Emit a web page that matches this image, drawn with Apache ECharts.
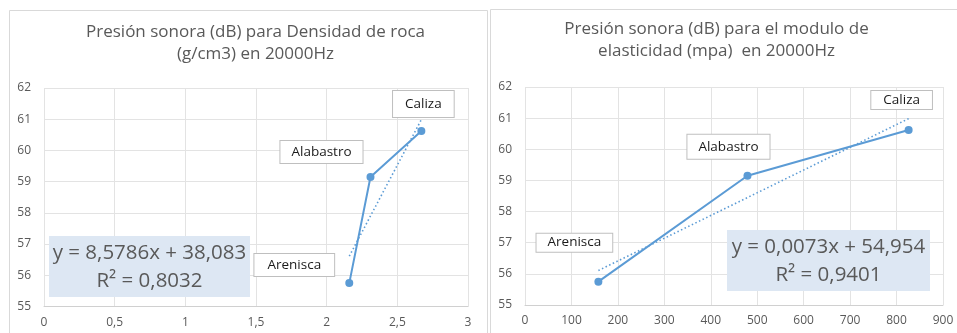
<!DOCTYPE html>
<html>
<head>
<meta charset="utf-8">
<script src="https://cdn.jsdelivr.net/npm/echarts@6/dist/echarts.min.js"></script>
<style>
  html, body { margin: 0; padding: 0; background: #fff; }
  #chart { width: 957px; height: 333px; }
</style>
</head>
<body>
<div id="chart"></div>
<script>
// Rock samples and measured sound pressure at 20000 Hz
const rocks = ['Arenisca', 'Alabastro', 'Caliza'];
const density = [2.16, 2.31, 2.67];          // g/cm3
const elasticity = [158, 479, 826];          // mpa
const pressure = [55.75, 59.15, 60.62];      // dB

// Linear trend coefficients (slope, intercept, R²) as reported
const densityFit = [8.5786, 38.083, 0.8032];
const elasticityFit = [0.0073, 54.954, 0.9401];

// Axis tick setup
const yTicks = [55, 62, 1];
const densityTicks = [0, 3, 0.5];
const elasticityTicks = [0, 900, 100];

const FONT = '"Open Sans", "Noto Sans", sans-serif';
const GRAY = '#595959';
const BLUE = '#5b9bd5';

const fmt = (v, d) => v.toFixed(d).replace('.', ',');

function trend(xs, fit) {
  const lo = Math.min(...xs), hi = Math.max(...xs);
  return [[lo, fit[0] * lo + fit[1]], [hi, fit[0] * hi + fit[1]]];
}

// label placement relative to each point: [dx, dy, padding]
const densityLabelPos = [[-55, -18, [4, 13]], [-49, -25, [4, 11]], [2, -27, [6, 12]]];
const elasticityLabelPos = [[-24, -39, [2, 11]], [-19, -29, [5, 11]], [-7, -30, [2, 12]]];

function points(xs, labelPos) {
  return xs.map((x, i) => ({
    value: [x, pressure[i]],
    name: rocks[i],
    label: {
      show: true,
      position: 'inside',
      offset: [labelPos[i][0], labelPos[i][1]],
      formatter: '{b}',
      color: '#1a1a1a',
      fontFamily: FONT,
      fontSize: 13.5,
      backgroundColor: '#fff',
      borderColor: '#bfbfbf',
      borderWidth: 1,
      padding: labelPos[i][2]
    }
  }));
}

function xAxisFor(ticks, idx, decimals) {
  return {
    type: 'value', gridIndex: idx,
    min: ticks[0], max: ticks[1], interval: ticks[2],
    axisLine: { show: true, lineStyle: { color: '#d0d0d0' } },
    axisTick: { show: false },
    splitLine: { show: true, lineStyle: { color: '#e3e3e3' } },
    axisLabel: {
      color: GRAY, fontFamily: FONT, fontSize: 12, margin: 10,
      formatter: v => decimals ? (Number.isInteger(v) ? String(v) : fmt(v, 1)) : String(v)
    }
  };
}

function yAxisFor(idx) {
  return {
    type: 'value', gridIndex: idx,
    min: yTicks[0], max: yTicks[1], interval: yTicks[2],
    axisLine: { show: false },
    axisTick: { show: false },
    splitLine: { show: true, lineStyle: { color: '#e3e3e3' } },
    axisLabel: { color: GRAY, fontFamily: FONT, fontSize: 12, margin: 13 }
  };
}

function dataSeries(idx, xs, labelPos) {
  return {
    type: 'line', xAxisIndex: idx, yAxisIndex: idx,
    data: points(xs, labelPos),
    symbol: 'circle', symbolSize: 8,
    lineStyle: { color: BLUE, width: 2 },
    itemStyle: { color: BLUE },
    z: 3, animation: false
  };
}

function trendSeries(idx, xs, fit) {
  return {
    type: 'line', xAxisIndex: idx, yAxisIndex: idx,
    data: trend(xs, fit),
    symbol: 'none',
    lineStyle: { color: BLUE, width: 1.6, type: [1.5, 2.5] },
    z: 2, animation: false, silent: true
  };
}

function equationBox(x, y, w, h, fit, decSlope, decInt) {
  const sign = fit[1] >= 0 ? '+' : '-';
  return {
    type: 'group', x, y, z: 100,
    children: [
      { type: 'rect', z: 100, shape: { x: 0, y: 0, width: w, height: h }, style: { fill: '#dde7f3' } },
      {
        type: 'text', z: 101, x: w / 2, y: h / 2 + 1,
        style: {
          text: 'y = ' + fmt(fit[0], decSlope) + 'x ' + sign + ' ' + fmt(Math.abs(fit[1]), decInt) +
                '\nR² = ' + fmt(fit[2], 4),
          fill: GRAY, font: '20.5px ' + FONT, lineHeight: 28,
          textAlign: 'center', textVerticalAlign: 'middle'
        }
      }
    ]
  };
}

const chart = echarts.init(document.getElementById('chart'), null, { renderer: 'canvas' });
chart.setOption({
  animation: false,
  backgroundColor: '#fff',
  grid: [
    { left: 44, top: 88, width: 424, height: 218.5 },
    { left: 525, top: 87, width: 418, height: 218 }
  ],
  xAxis: [xAxisFor(densityTicks, 0, true), xAxisFor(elasticityTicks, 1, false)],
  yAxis: [yAxisFor(0), yAxisFor(1)],
  series: [
    trendSeries(0, density, densityFit),
    dataSeries(0, density, densityLabelPos),
    trendSeries(1, elasticity, elasticityFit),
    dataSeries(1, elasticity, elasticityLabelPos)
  ],
  graphic: [
    { type: 'rect', shape: { x: 9.5, y: 10.5, width: 478, height: 400 }, style: { fill: 'none', stroke: '#d9d9d9', lineWidth: 1 }, z: -1 },
    { type: 'rect', shape: { x: 490.5, y: 9.5, width: 500, height: 400 }, style: { fill: 'none', stroke: '#d9d9d9', lineWidth: 1 }, z: -1 },
    {
      type: 'text', x: 255.5, y: 43,
      style: {
        text: 'Presión sonora (dB) para Densidad de roca\n(g/cm3) en 20000Hz',
        fill: GRAY, font: '17px ' + FONT, lineHeight: 22,
        textAlign: 'center', textVerticalAlign: 'middle'
      }
    },
    {
      type: 'text', x: 716.5, y: 40,
      style: {
        text: 'Presión sonora (dB) para el modulo de\nelasticidad (mpa)  en 20000Hz',
        fill: GRAY, font: '17px ' + FONT, lineHeight: 22,
        textAlign: 'center', textVerticalAlign: 'middle'
      }
    },
    equationBox(49, 236, 201, 61, densityFit, 4, 3),
    equationBox(727, 230, 203, 61, elasticityFit, 4, 3)
  ]
});
</script>
</body>
</html>
